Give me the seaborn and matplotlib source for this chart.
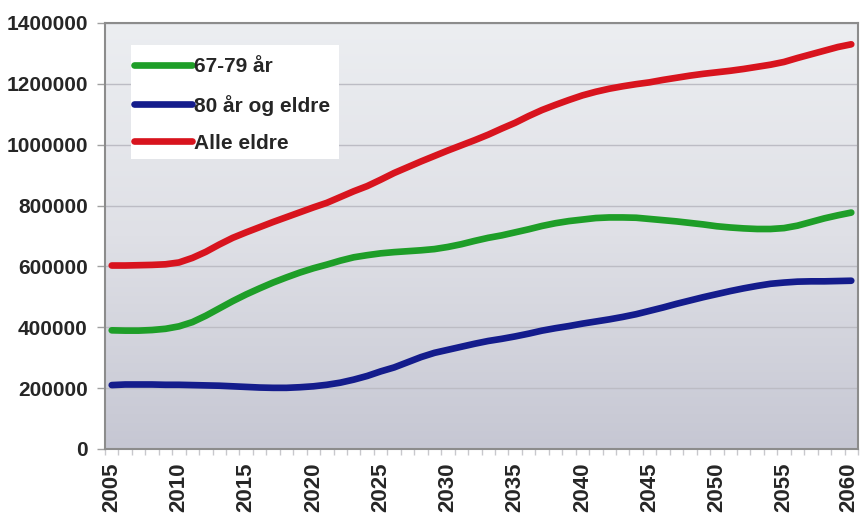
import numpy as np
import pandas as pd
import matplotlib
matplotlib.use("Agg")
import matplotlib.pyplot as plt
import matplotlib.transforms as mtransforms
from matplotlib.colors import LinearSegmentedColormap
from matplotlib.patches import Rectangle
import seaborn as sns

years = list(range(2005, 2061))

alder_67_79 = [390, 389, 389, 391, 395, 403, 417, 438, 462, 486,
               508, 528, 547, 564, 580, 594, 606, 619, 630, 637,
               643, 647, 650, 653, 657, 664, 673, 684, 694, 702,
               712, 722, 733, 742, 749, 754, 759, 761, 761, 760,
               756, 752, 748, 743, 738, 732, 728, 725, 723, 723,
               726, 734, 746, 758, 768, 777]

alder_80_pluss = [210, 212, 212, 212, 211, 211, 210, 209, 208, 206,
                  204, 202, 201, 201, 203, 206, 211, 218, 228, 240,
                  255, 268, 285, 302, 316, 326, 336, 346, 355, 362,
                  370, 379, 389, 397, 404, 412, 419, 426, 434, 443,
                  454, 465, 477, 488, 499, 509, 519, 528, 536, 543,
                  547, 550, 551, 551, 552, 553]

alle_eldre = [603, 603, 604, 605, 607, 613, 628, 648, 672, 694,
              712, 729, 746, 762, 778, 794, 809, 828, 847, 864,
              885, 907, 926, 945, 963, 981, 998, 1015, 1033, 1053,
              1072, 1094, 1114, 1131, 1147, 1162, 1174, 1184, 1192, 1199,
              1205, 1213, 1220, 1227, 1233, 1238, 1243, 1249, 1256, 1263,
              1272, 1285, 1297, 1309, 1321, 1330]

series_names = ["67-79 år", "80 år og eldre", "Alle eldre"]
series_colors = ["#1e9e28", "#141c8c", "#d8141e"]
y_ticks = [0, 200000, 400000, 600000, 800000, 1000000, 1200000, 1400000]
x_ticks = list(range(2005, 2061, 5))

df = pd.concat([
    pd.DataFrame({"År": years, "Antall": np.array(v) * 1000, "Gruppe": n})
    for v, n in zip([alder_67_79, alder_80_pluss, alle_eldre], series_names)
])

sns.set_style("white")
plt.rcParams["font.family"] = ["Liberation Sans", "DejaVu Sans"]
plt.rcParams["font.weight"] = "bold"

fig = plt.figure(figsize=(8.6, 5.22), dpi=100)
pos = [105 / 860, (522 - 449) / 522, 753 / 860, 426 / 522]

# gradient background
bg = fig.add_axes(pos, zorder=0)
cmap = LinearSegmentedColormap.from_list("bg", ["#eceef1", "#dfe0e6", "#c6c7d3"])
bg.imshow(np.linspace(0, 1, 256).reshape(-1, 1), cmap=cmap, aspect="auto",
          extent=[0, 1, 0, 1], origin="upper")
bg.set_axis_off()

ax = fig.add_axes(pos, zorder=1)
ax.set_facecolor("none")

sns.lineplot(data=df, x="År", y="Antall", hue="Gruppe", hue_order=series_names,
             palette=series_colors, linewidth=4.8, ax=ax, legend=True)

ax.set_xlim(2004.5, 2060.5)
ax.set_ylim(0, 1400000)
ax.set_yticks(y_ticks)
ax.set_yticklabels([str(t) for t in y_ticks], fontsize=15, fontweight="bold")
ax.set_xticks(x_ticks)
ax.set_xticklabels([str(t) for t in x_ticks], rotation=90, fontsize=16,
                   fontweight="bold")
ax.set_xticks(np.arange(2004.5, 2061, 1), minor=True)
ax.tick_params(axis="y", which="major", length=6, width=1, color="#a0a0a0",
               pad=6.5, left=True)
ax.tick_params(axis="x", which="major", length=0, pad=10, bottom=True)
ax.tick_params(axis="x", which="minor", length=4, width=1, color="#c8c8cc",
               bottom=True)
ax.set_xlabel("")
ax.set_ylabel("")

# keep the last year label inside the canvas
last_lbl = ax.xaxis.get_major_ticks()[-1].label1
last_lbl.set_transform(last_lbl.get_transform() +
                       mtransforms.ScaledTranslation(-3 / 100, 0, fig.dpi_scale_trans))

ax.yaxis.grid(True, color="#bcbcc4", linewidth=1)
ax.xaxis.grid(False)
ax.set_axisbelow(True)
for s in ax.spines.values():
    s.set_visible(True)
    s.set_color("#8c8c8c")
    s.set_linewidth(1.5)

# white legend box
x0, x1 = (130.7 - 105) / 753, (339 - 105) / 753
y0, y1 = (449 - 159) / 426, (449 - 45) / 426
ax.add_patch(Rectangle((x0, y0), x1 - x0, y1 - y0, transform=ax.transAxes,
                       facecolor="white", edgecolor="none", zorder=4))

handles, labels = ax.get_legend_handles_labels()
leg = ax.legend(handles, labels, loc="upper left",
                bbox_to_anchor=((134 - 105) / 753, (449 - 57.5) / 426),
                borderaxespad=0, borderpad=0, frameon=False,
                handlelength=2.8, handletextpad=0.08, labelspacing=0.87,
                prop={"size": 15, "weight": "bold"})
leg.set_zorder(5)
for line in leg.get_lines():
    line.set_linewidth(4.8)

fig.savefig("out.png", dpi=100)
